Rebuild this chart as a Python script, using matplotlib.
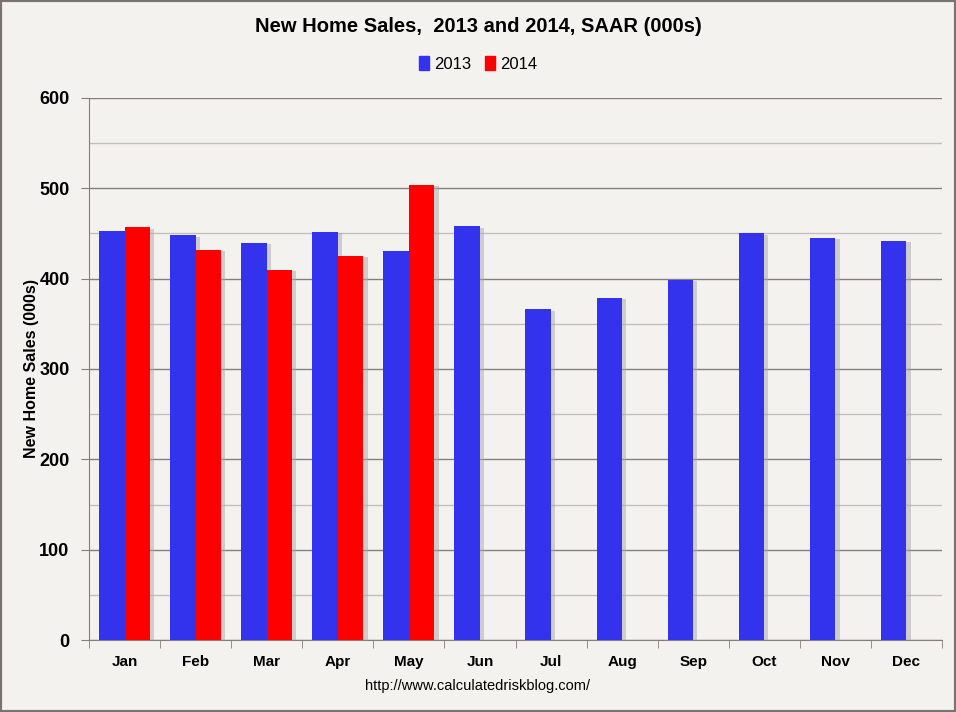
import numpy as np
import matplotlib
matplotlib.use('Agg')
import matplotlib.pyplot as plt
import matplotlib.patheffects as pe
from matplotlib.patches import Rectangle, Patch
from matplotlib.ticker import MultipleLocator

months = ['Jan', 'Feb', 'Mar', 'Apr', 'May', 'Jun', 'Jul', 'Aug', 'Sep', 'Oct', 'Nov', 'Dec']
sales_2013 = [453, 448, 440, 452, 431, 458, 366, 379, 399, 450, 445, 442]
sales_2014 = [457, 432, 410, 425, 504]

font = ['Liberation Sans', 'DejaVu Sans']
bg = '#f4f2ef'
blue = '#3333ee'
red = '#ff0000'

fig = plt.figure(figsize=(9.56, 7.12), dpi=100, facecolor=bg)
ax = fig.add_axes([0.0931, 0.1011, 0.8923, 0.7613], facecolor=bg)

x = np.arange(len(months))
w = 0.36
shadow = [pe.SimplePatchShadow(offset=(3, -1), shadow_rgbFace='#aaaaaa', alpha=0.5), pe.Normal()]
b1 = ax.bar(x - w / 2, sales_2013, width=w, color=blue, zorder=3)
b2 = ax.bar(x[:len(sales_2014)] + w / 2, sales_2014, width=w, color=red, zorder=3)
for b in list(b1) + list(b2):
    b.set_path_effects(shadow)

ax.set_xlim(-0.5, 11.5)
ax.set_ylim(0, 600)
ax.yaxis.set_major_locator(MultipleLocator(100))
ax.yaxis.set_minor_locator(MultipleLocator(50))
ax.grid(axis='y', which='major', color='#877e7b', linewidth=1.0, zorder=0)
ax.grid(axis='y', which='minor', color='#c4bebb', linewidth=1.0, zorder=0)
ax.set_axisbelow(True)

ax.set_xticks(x)
ax.set_xticklabels(months, family=font, fontweight='bold', fontsize=11)
ax.set_xticks(np.arange(-0.5, 12, 1), minor=True)
ax.tick_params(axis='x', which='major', length=0, pad=11)
ax.tick_params(axis='x', which='minor', length=6, color='#877e7b', direction='out')
ax.tick_params(axis='y', which='major', length=6, color='#877e7b', pad=8)
ax.tick_params(axis='y', which='minor', length=0)
for lab in ax.get_yticklabels():
    lab.set_fontweight('bold')
    lab.set_family(font)
    lab.set_fontsize(13)

for s in ['top', 'right']:
    ax.spines[s].set_visible(False)
for s in ['left', 'bottom']:
    ax.spines[s].set_color('#877e7b')

ax.set_ylabel('New Home Sales (000s)', family=font, fontsize=11.5, fontweight='bold', labelpad=0)

fig.text(0.5, 0.963, 'New Home Sales,  2013 and 2014, SAAR (000s)', ha='center', va='center',
         family=font, fontsize=14.5, fontweight='bold')
handles = [Patch(color=blue, label='2013'), Patch(color=red, label='2014')]
fig.legend(handles=handles, loc='center', bbox_to_anchor=(0.5, 0.91), ncol=2, frameon=False,
           prop={'family': font, 'size': 12}, handlelength=0.6, handleheight=0.9,
           handletextpad=0.3, columnspacing=0.8)
fig.text(0.5, 0.037, 'http://www.calculatedriskblog.com/', ha='center', va='center',
         family=font, fontsize=10.5)

fig.patches.append(Rectangle((0, 0), 1, 1, transform=fig.transFigure, fill=False,
                             edgecolor='#7a726e', linewidth=3))

fig.savefig('out.png', dpi=100, facecolor=bg)
